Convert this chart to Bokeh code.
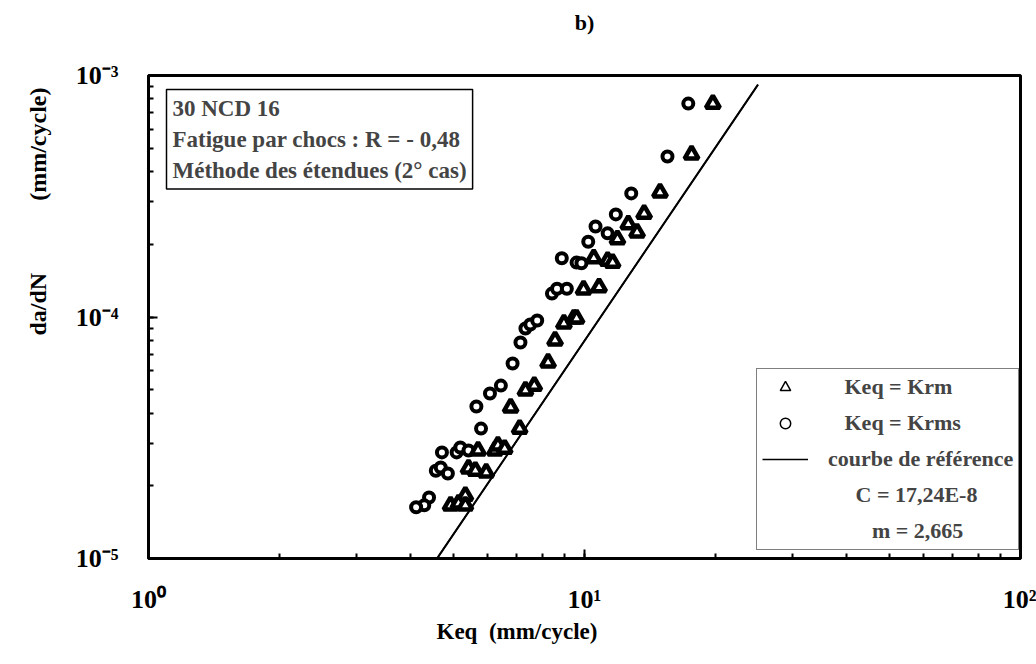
import math
from bokeh.plotting import figure
from bokeh.models import (Label, Legend, LegendItem, CustomJSTickFormatter,
                          LogTicker, Range1d, Title, LogAxis, FixedTicker)
from bokeh.embed import file_html
from bokeh.resources import INLINE

# ---------------- data ----------------
krm_keq = [19.7, 17.6, 14.9, 13.7, 12.6, 13.2, 11.9, 10.5, 11.3, 11.6,
           9.95, 10.8, 8.97, 9.45, 9.59, 8.56, 8.25, 7.67, 7.32, 6.77,
           7.10, 5.70, 6.23, 6.33, 6.56, 5.42, 5.62, 5.95, 5.33, 4.93,
           5.14, 5.33]
krm_dadn = [76.5e-5, 47.1e-5, 32.8e-5, 26.8e-5, 24.2e-5, 22.4e-5, 21.0e-5,
            17.5e-5, 17.1e-5, 16.8e-5, 13.0e-5, 13.3e-5, 9.40e-5, 9.86e-5,
            9.86e-5, 8.00e-5, 6.48e-5, 5.20e-5, 4.96e-5, 4.22e-5, 3.45e-5,
            2.80e-5, 2.80e-5, 2.94e-5, 2.85e-5, 2.36e-5, 2.31e-5, 2.27e-5,
            1.82e-5, 1.66e-5, 1.69e-5, 1.66e-5]

krms_keq = [17.3, 15.5, 12.8, 11.8, 10.6, 11.3, 10.2, 8.87, 9.59, 9.84,
            8.42, 8.65, 9.11, 7.32, 7.51, 7.79, 7.13, 6.84, 6.43, 6.07,
            5.65, 5.79, 4.71, 5.09, 5.19, 5.42, 4.56, 4.68, 4.86, 4.40,
            4.29, 4.11]
krms_dadn = [76.5e-5, 46.2e-5, 32.5e-5, 26.6e-5, 23.7e-5, 22.2e-5, 20.5e-5,
             17.5e-5, 16.8e-5, 16.7e-5, 12.5e-5, 13.1e-5, 13.1e-5, 8.96e-5,
             9.31e-5, 9.67e-5, 7.84e-5, 6.42e-5, 5.20e-5, 4.82e-5, 4.26e-5,
             3.45e-5, 2.75e-5, 2.75e-5, 2.88e-5, 2.80e-5, 2.31e-5, 2.38e-5,
             2.25e-5, 1.79e-5, 1.66e-5, 1.63e-5]

ref_C = 17.24e-8
ref_m = 2.665
ref_keq = [4.6, 25.0]
ref_dadn = [ref_C * k ** ref_m for k in ref_keq]

NB = "\u00a0"
legend_labels = [NB * 3 + "Keq = Krm", NB * 3 + "Keq = Krms",
                 "courbe de référence", NB * 5 + "C = 17,24E-8",
                 NB * 8 + "m = 2,665"]
box_text = "30 NCD 16\nFatigue par chocs : R = - 0,48\nMéthode des étendues (2° cas)"
title_text = "b)"
y_label = "da/dN" + NB * 12 + "(mm/cycle)"
x_label = "Keq" + NB * 2 + "(mm/cycle)"

FONT = "Liberation Serif"

# ---------------- figure ----------------
p = figure(width=1036, height=664, x_axis_type="log", y_axis_type="log",
           x_range=Range1d(1, 100), y_range=Range1d(1e-5, 1e-3),
           output_backend="svg", toolbar_location=None,
           min_border_left=145, min_border_right=16,
           min_border_top=75, min_border_bottom=106)
p.background_fill_color = "white"
p.border_fill_color = "white"
p.outline_line_color = "black"
p.outline_line_width = 3
p.grid.visible = False
p.title.visible = False

fmt = CustomJSTickFormatter(code="""
const sup = {'-':'\u207b','0':'\u2070','1':'\u00b9','2':'\u00b2','3':'\u00b3',
             '4':'\u2074','5':'\u2075','6':'\u2076','7':'\u2077','8':'\u2078','9':'\u2079'};
const e = Math.round(Math.log10(tick));
return '10' + String(e).split('').map(c => sup[c]).join('');
""")

for ax in (p.xaxis[0], p.yaxis[0]):
    ax.ticker = LogTicker(mantissas=[1], num_minor_ticks=10)
    ax.formatter = fmt
    ax.axis_line_width = 3
    ax.axis_line_color = "black"
    ax.major_tick_in = 9
    ax.major_tick_out = 0
    ax.minor_tick_in = 5
    ax.minor_tick_out = 0
    ax.major_tick_line_width = 2
    ax.minor_tick_line_width = 2
    ax.major_label_text_font = FONT
    ax.major_label_text_font_style = "bold"
    ax.major_label_text_font_size = "26px"
    ax.major_label_text_color = "black"
p.xaxis.major_label_standoff = 26
p.yaxis.major_label_standoff = 30

# "b)" as the label of a bare axis above the frame
top_ax = LogAxis(ticker=FixedTicker(ticks=[]), axis_label=title_text,
                 axis_line_color=None, major_tick_line_color=None,
                 minor_tick_line_color=None, major_label_text_font_size="0px",
                 axis_label_standoff=41, axis_label_text_font=FONT,
                 axis_label_text_font_style="bold",
                 axis_label_text_font_size="22px",
                 axis_label_text_color="black")
p.add_layout(top_ax, "above")

# axis titles as side titles (shifted along the axis)
p.add_layout(Title(text=y_label, align="left", offset=223, standoff=44,
                   text_font=FONT, text_font_style="bold",
                   text_font_size="24px", text_color="black"), "left")
p.add_layout(Title(text=x_label, align="left", offset=288, standoff=0,
                   text_font=FONT, text_font_style="bold",
                   text_font_size="23px", text_color="black"), "below")

# ---------------- legend-only renderers (drawn first, hidden under data) ----
lg_tri = p.scatter(krm_keq[:1], krm_dadn[:1], marker="triangle", size=9,
                   line_width=1.5, line_color="black", fill_color="white")
lg_cir = p.scatter(krms_keq[:1], krms_dadn[:1], marker="circle", size=8,
                   line_width=1.5, line_color="black", fill_color="white")
lg_line = p.line(ref_keq, ref_dadn, line_color="black", line_width=1.5)
lg_none1 = p.scatter(krm_keq[:1], krm_dadn[:1], alpha=0)
lg_none2 = p.scatter(krm_keq[:1], krm_dadn[:1], alpha=0)

# ---------------- data glyphs ----------------
p.line(ref_keq, ref_dadn, line_color="black", line_width=2)
p.scatter(krms_keq, krms_dadn, marker="circle", size=10, line_width=4,
          line_color="black", fill_color="white")
p.scatter(krm_keq, krm_dadn, marker="triangle", size=14, line_width=4.5,
          line_color="black", fill_color="white")

legend = Legend(items=[
    LegendItem(label=legend_labels[0], renderers=[lg_tri]),
    LegendItem(label=legend_labels[1], renderers=[lg_cir]),
    LegendItem(label=legend_labels[2], renderers=[lg_line]),
    LegendItem(label=legend_labels[3], renderers=[lg_none1]),
    LegendItem(label=legend_labels[4], renderers=[lg_none2]),
], location=(608, 8))
legend.border_line_color = "black"
legend.border_line_width = 1.5
legend.background_fill_color = "white"
legend.background_fill_alpha = 1
legend.label_text_font = FONT
legend.label_text_font_style = "bold"
legend.label_text_font_size = "22px"
legend.glyph_width = 46
legend.glyph_height = 26
legend.label_height = 26
legend.label_standoff = 20
legend.spacing = 10
legend.padding = 5
legend.margin = 0
p.add_layout(legend, "center")

# ---------------- text box ----------------
p.add_layout(Label(x=18, y=469, x_units="screen", y_units="screen",
                   text=box_text, text_align="left", text_baseline="top",
                   text_font=FONT, text_font_style="bold",
                   text_font_size="23px", text_line_height=1.25,
                   border_line_color="black", border_line_width=1.5,
                   background_fill_color="white", padding=6))

open("out.html", "w").write(file_html(p, INLINE))
